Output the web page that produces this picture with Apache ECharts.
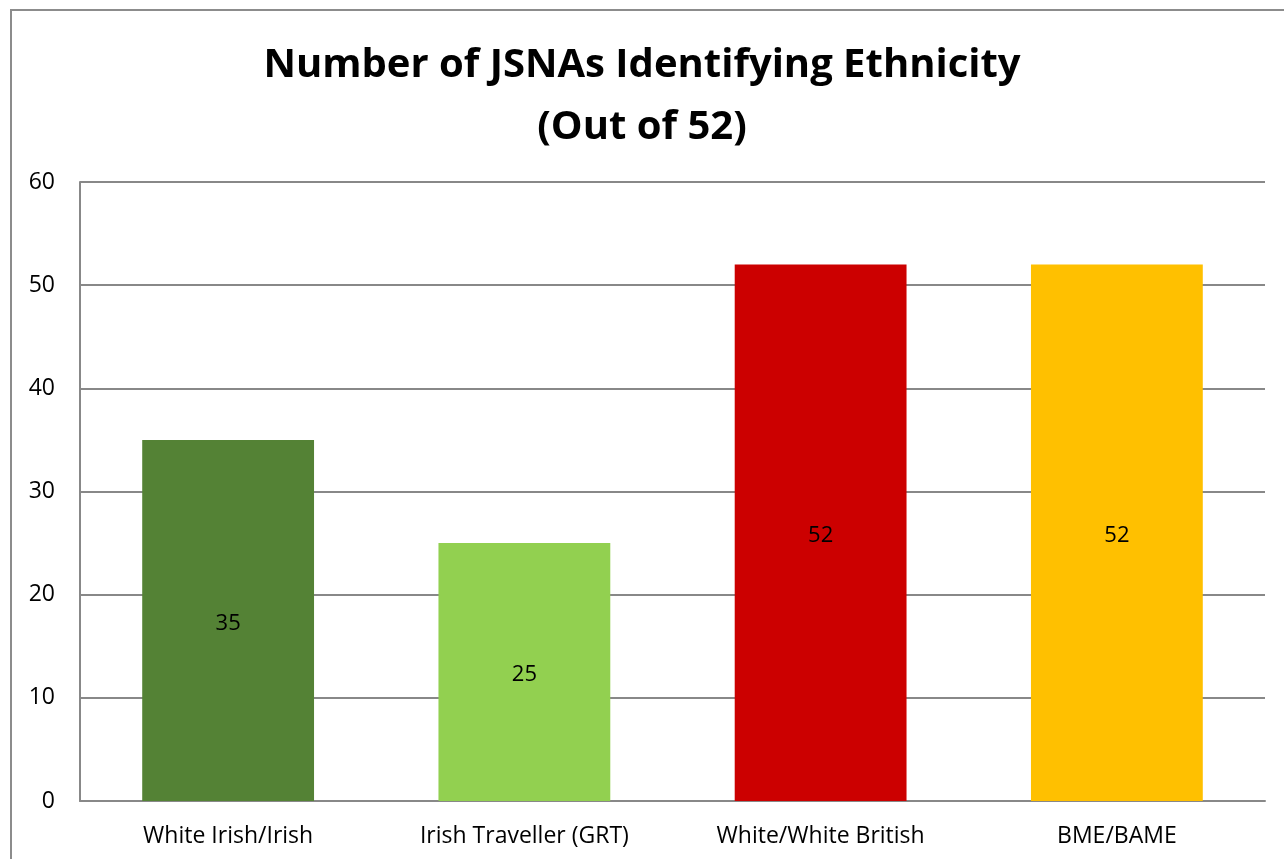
<!DOCTYPE html>
<html><head><meta charset="utf-8">
<script src="https://cdn.jsdelivr.net/npm/echarts@6/dist/echarts.min.js"></script>
<style>html,body{margin:0;padding:0;background:#fff;}#c{width:1284px;height:859px;}</style>
</head><body><div id="c"></div>
<script>
const categories = ['White Irish/Irish', 'Irish Traveller (GRT)', 'White/White British', 'BME/BAME'];
const values = [35, 25, 52, 52];
const colors = ['#548235', '#92D050', '#CC0000', '#FFC000'];
const titleText = 'Number of JSNAs Identifying Ethnicity\n(Out of 52)';

const chart = echarts.init(document.getElementById('c'));
chart.setOption({
  animation: false,
  backgroundColor: '#fff',
  graphic: [{
    type: 'rect', shape: { x: 11, y: 10, width: 1400, height: 1000 },
    style: { fill: 'none', stroke: '#8c8c8c', lineWidth: 2 }, z: 100
  }],
  title: {
    text: titleText, left: 'center', top: 30,
    textStyle: { fontFamily: 'Open Sans', fontWeight: 'bold', fontSize: 40, lineHeight: 62, color: '#000' }
  },
  grid: { left: 80, right: 19, top: 182, bottom: 58 },
  xAxis: {
    type: 'category', data: categories,
    axisLine: { lineStyle: { color: '#888', width: 2 } },
    axisTick: { show: false },
    axisLabel: { fontFamily: 'Open Sans', fontSize: 23, color: '#000', margin: 24 }
  },
  yAxis: {
    type: 'value', min: 0, max: 60, interval: 10,
    axisLine: { show: true, lineStyle: { color: '#888', width: 2 } },
    axisTick: { show: false },
    splitLine: { lineStyle: { color: '#888', width: 2 } },
    axisLabel: { fontFamily: 'Open Sans', fontSize: 23, color: '#000', margin: 25 }
  },
  series: [{
    type: 'bar',
    data: values.map((v, i) => ({ value: v, itemStyle: { color: colors[i] } })),
    barWidth: '58%',
    label: { show: true, position: 'inside', offset: [0, 3], fontFamily: 'Open Sans', fontSize: 22, color: '#000' }
  }]
});
</script></body></html>
